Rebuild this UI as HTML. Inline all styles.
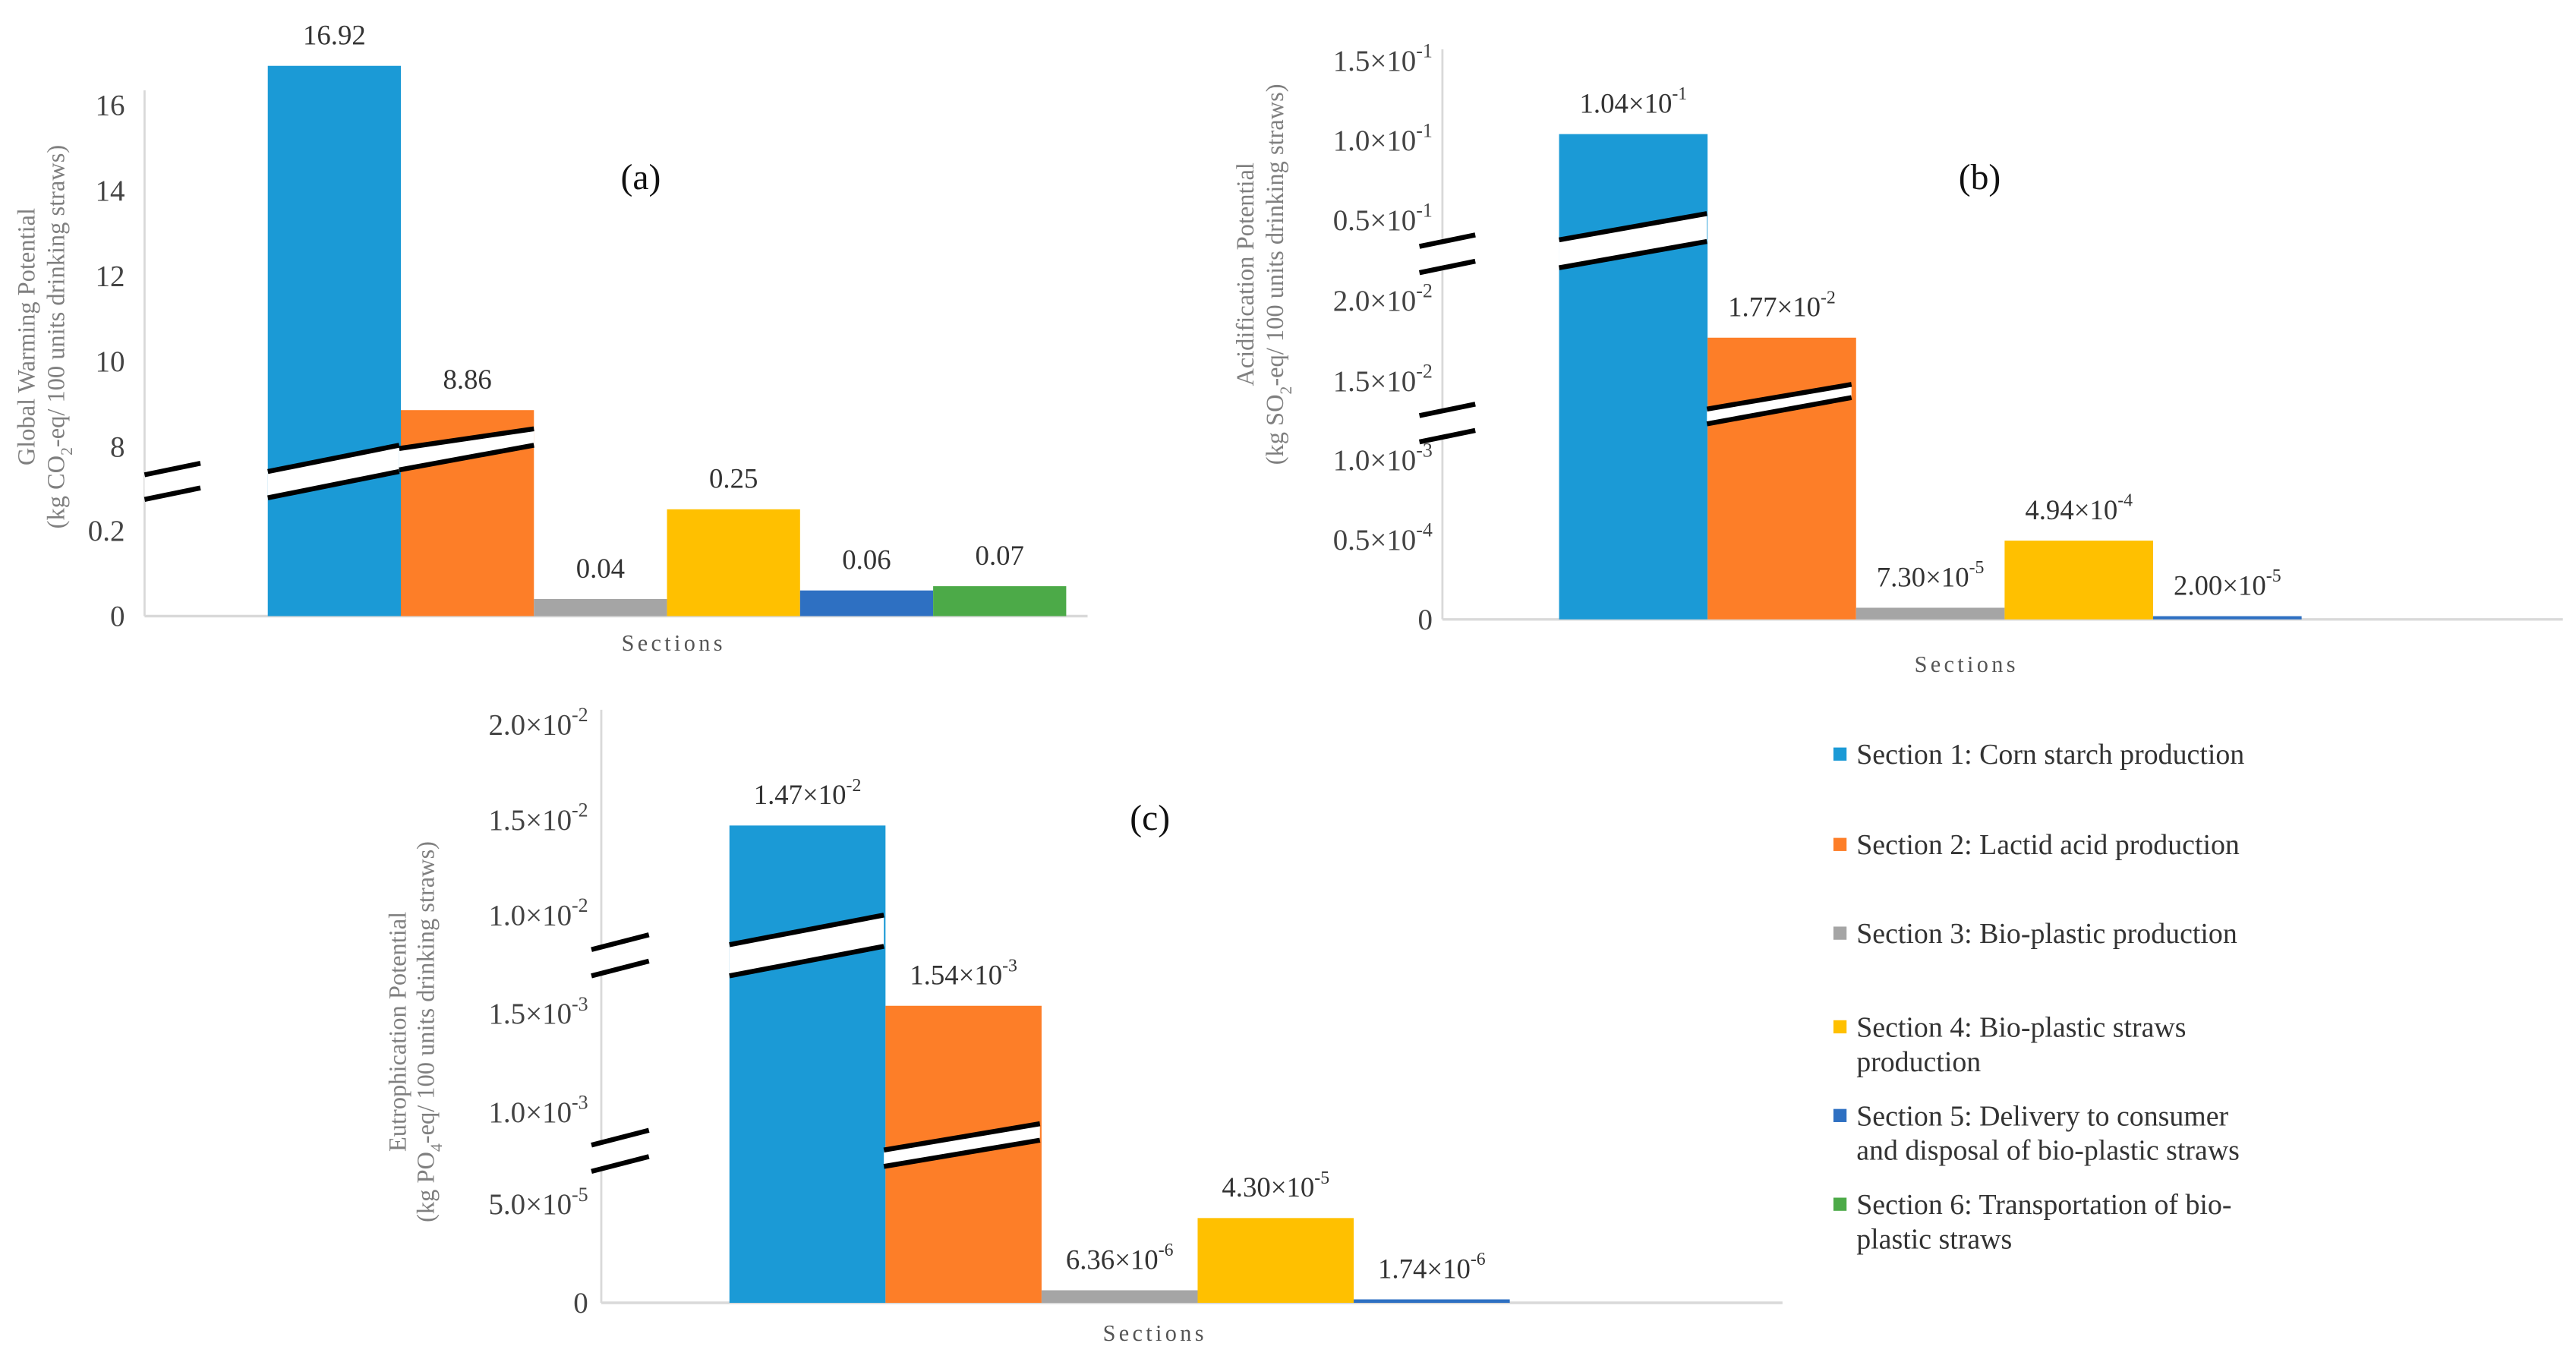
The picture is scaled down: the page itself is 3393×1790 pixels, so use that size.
<!DOCTYPE html>
<html><head><meta charset="utf-8"><style>
html,body{margin:0;padding:0;background:#fff;}
svg{display:block;}
text{font-family:"Liberation Serif",serif;}
</style></head><body>
<svg id="fig" width="3393" height="1790" viewBox="0 0 1568 827.2" preserveAspectRatio="none" xmlns="http://www.w3.org/2000/svg">
<rect width="1568" height="828" fill="#fff"/>
</svg>
<script>
// ---------- data ----------
const categories = ["Section 1: Corn starch production","Section 2: Lactid acid production","Section 3: Bio-plastic production","Section 4: Bio-plastic straws production","Section 5: Delivery to consumer and disposal of bio-plastic straws","Section 6: Transportation of bio-plastic straws"];
const gwpValues = [16.92, 8.86, 0.04, 0.25, 0.06, 0.07];
const apValues = [1.04e-1, 1.77e-2, 7.30e-5, 4.94e-4, 2.00e-5];
const epValues = [1.47e-2, 1.54e-3, 6.36e-6, 4.30e-5, 1.74e-6];
const gwpTicks = [0, 0.2, 8, 10, 12, 14, 16];
const gwpTickLabels = ["0","0.2","8","10","12","14","16"];
const apTicks = [0, 5e-4, 1e-3, 1.5e-2, 2e-2, 5e-2, 1e-1, 1.5e-1];
const apTickLabels = ["0","0.5|-4","1.0|-3","1.5|-2","2.0|-2","0.5|-1","1.0|-1","1.5|-1"];
const epTicks = [0, 5e-5, 1e-3, 1.5e-3, 1e-2, 1.5e-2, 2e-2];
const epTickLabels = ["0","5.0|-5","1.0|-3","1.5|-3","1.0|-2","1.5|-2","2.0|-2"];
const legendLines = [["Section 1: Corn starch production"],["Section 2: Lactid acid production"],["Section 3: Bio-plastic production"],["Section 4: Bio-plastic straws","production"],["Section 5: Delivery to consumer","and disposal of bio-plastic straws"],["Section 6: Transportation of bio-","plastic straws"]];
const colors = ["#1b9ad6","#fd7e28","#a5a5a5","#ffc000","#2e70c2","#4caa48"];

const NS = "http://www.w3.org/2000/svg";
const svg = document.getElementById("fig");
function mk(tag, attrs, parent){const e=document.createElementNS(NS,tag);for(const k in attrs)e.setAttribute(k,attrs[k]);(parent||svg).appendChild(e);return e;}
function supText(el, mant, exp, supSize){
  el.appendChild(document.createTextNode(mant+"×10"));
  const t=document.createElementNS(NS,"tspan");t.setAttribute("dy","-8");t.setAttribute("font-size",supSize);t.textContent=exp;el.appendChild(t);
}
function makeScale(segs){
  return function(v){let s=segs[0];for(const g of segs){if(v>=g.d0)s=g;}return s.r0+(v-s.d0)*(s.r1-s.r0)/(s.d1-s.d0);};
}

function drawChart(cfg){
  const g=mk("g",{});
  
  
  const y=makeScale(cfg.segs);
  const ya=mk("line",{x1:cfg.ax,y1:cfg.axTop,x2:cfg.ax,y2:y(0),stroke:"#d9d9d9","stroke-width":1.3},g);
  
  
  const xa=mk("line",{x1:cfg.ax,y1:y(0),x2:cfg.axRight,y2:y(0),stroke:"#d9d9d9","stroke-width":1.6},g);
  
  
  cfg.ticks.forEach((v,i)=>{
    const t=mk("text",{x:cfg.tickX,y:y(v)+6,"font-size":18,"text-anchor":"end",fill:"#444"},g);
    const lab=cfg.tickLabels[i];
    if(lab.indexOf("|")>=0){const p=lab.split("|");supText(t,p[0],p[1],12);}else t.textContent=lab;
    
    
  });
  cfg.values.forEach((v,i)=>{
    const top=y(v);
    const r=mk("rect",{x:cfg.bx+i*cfg.bw,y:top,width:cfg.bw,height:y(0)-top,fill:colors[i]},g);
    
    
    const t=mk("text",{x:cfg.bx+(i+0.5)*cfg.bw,y:top-13,"font-size":17,"text-anchor":"middle",fill:"#333"},g);
    if(cfg.sci){const p=v.toExponential(2).split("e");supText(t,p[0],p[1].replace("+",""),11);}else t.textContent=v.toFixed(2);
    
    
  });
  cfg.breaks.forEach(b=>{
    const pg=mk("polygon",{points:`${b[0]},${b[1]} ${b[2]},${b[3]} ${b[2]},${b[5]} ${b[0]},${b[4]}`,fill:"#fff"},g);
    
    
    const l1=mk("line",{x1:b[0],y1:b[1],x2:b[2],y2:b[3],stroke:"#000","stroke-width":3},g);
    
    
    const l2=mk("line",{x1:b[0],y1:b[4],x2:b[2],y2:b[5],stroke:"#000","stroke-width":3},g);
    
    
  });
  const tt=mk("text",{x:0,y:0,"font-size":15,"text-anchor":"middle",fill:"#7f7f7f",transform:`translate(${cfg.tx1},${cfg.ty}) rotate(-90)`},g);
  tt.textContent=cfg.title1;
  
  
  const t2=mk("text",{x:0,y:0,"font-size":15,"text-anchor":"middle",fill:"#7f7f7f",transform:`translate(${cfg.tx2},${cfg.ty}) rotate(-90)`},g);
  t2.appendChild(document.createTextNode("(kg "+cfg.unit));
  const sb=document.createElementNS(NS,"tspan");sb.setAttribute("dy","5");sb.setAttribute("font-size","10");sb.textContent=cfg.sub;t2.appendChild(sb);
  const rest=document.createElementNS(NS,"tspan");rest.setAttribute("dy","-5");rest.textContent="-eq/ 100 units drinking straws)";t2.appendChild(rest);
  
  
  const xs=mk("text",{x:cfg.sx,y:cfg.sy,"font-size":14,"text-anchor":"middle",fill:"#555","letter-spacing":"2"},g);
  xs.textContent="Sections";
  
  
  const pl=mk("text",{x:cfg.px,y:cfg.py,"font-size":22,"text-anchor":"middle",fill:"#111"},g);
  pl.textContent=cfg.panel;
  
  
}

drawChart({name:"chart-a-global-warming",values:gwpValues,sci:false,
  segs:[{d0:0,d1:0.2,r0:375,r1:323},{d0:8,d1:16,r0:272,r1:64}],
  ticks:gwpTicks,tickLabels:gwpTickLabels,tickX:76,ax:88,axTop:55,axRight:662,bx:163,bw:81,
  breaks:[[88,289,122,282,304,297],[163,287,243,271,303,287],[243,273,325,261,286,271]],
  title1:"Global Warming Potential",unit:"CO",sub:"2",tx1:21,tx2:39,ty:205,sx:410,sy:396,px:390,py:115,panel:"(a)"});
drawChart({name:"chart-b-acidification",values:apValues,sci:true,
  segs:[{d0:0,d1:1e-3,r0:377,r1:280},{d0:1.5e-2,d1:2e-2,r0:232,r1:183},{d0:5e-2,d1:1.5e-1,r0:134,r1:37}],
  ticks:apTicks,tickLabels:apTickLabels,tickX:872,ax:878,axTop:30,axRight:1560,bx:949,bw:90.4,
  breaks:[[864,150,898,143,166,159],[864,253,898,246,269,262],[949,146,1039,130,163,147],[1039,249,1127,234,258,242]],
  title1:"Acidification Potential",unit:"SO",sub:"2",tx1:763,tx2:781,ty:167,sx:1197,sy:409,px:1205,py:115,panel:"(b)"});
drawChart({name:"chart-c-eutrophication",values:epValues,sci:true,
  segs:[{d0:0,d1:5e-5,r0:793,r1:733},{d0:1e-3,d1:1.5e-3,r0:677,r1:617},{d0:1e-2,d1:2e-2,r0:557,r1:441}],
  ticks:epTicks,tickLabels:epTickLabels,tickX:358,ax:366,axTop:432,axRight:1085,bx:444,bw:95,
  breaks:[[360,578,395,569,594,585],[360,697,395,688,713,704],[444,575,538,557,594,576],[538,700,633,684,710,694]],
  title1:"Eutrophication Potential",unit:"PO",sub:"4",tx1:247,tx2:264,ty:628,sx:703,sy:816,px:700,py:505,panel:"(c)"});

const lg=mk("g",{});


const legendY=[460,515,569,626,680,734];
legendLines.forEach((lines,i)=>{
  const sq=mk("rect",{x:1116,y:legendY[i]-5,width:8,height:8,fill:colors[i]},lg);
  
  
  lines.forEach((ln,j)=>{
    const t=mk("text",{x:1130,y:legendY[i]+5+j*21,"font-size":17.5,fill:"#333"},lg);
    t.textContent=ln;
    
    
  });
});
</script>
</body></html>
